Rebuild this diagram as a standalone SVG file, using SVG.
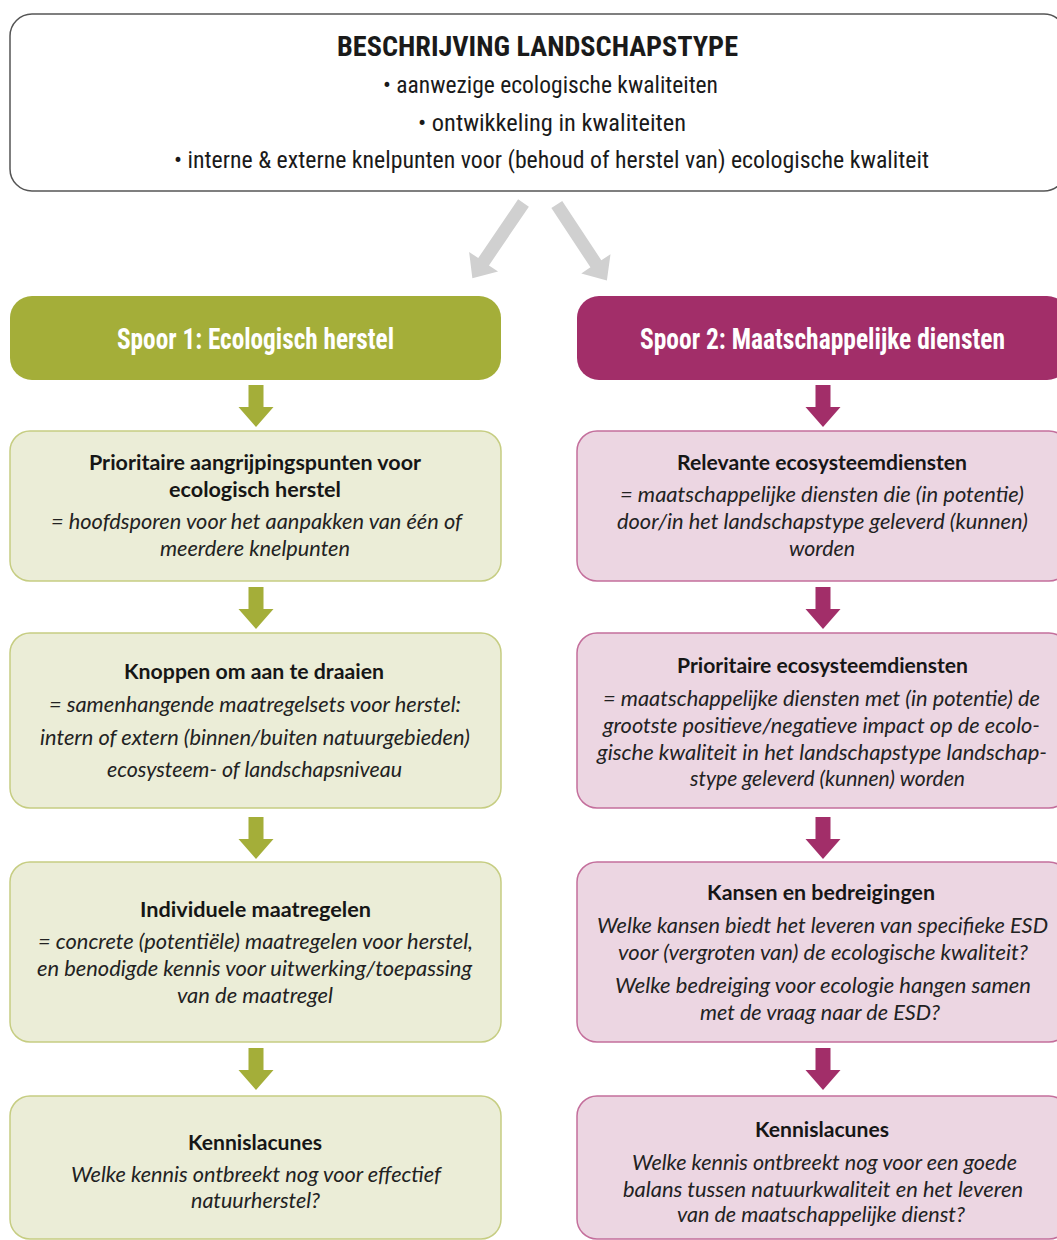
<svg xmlns="http://www.w3.org/2000/svg" xmlns:xlink="http://www.w3.org/1999/xlink" width="1057" height="1240" viewBox="0 0 1057 1240">
  <style>
    .top { fill: #ffffff; stroke: #555555; stroke-width: 1.5; }
    .tt { font-family: "Liberation Sans Narrow", "Roboto Condensed", "Open Sans", sans-serif; fill: #1a1a1a; }
    .ttb { font-size: 28px; font-weight: bold; }
    .ttl { font-size: 24px; }
    .hg { fill: #a4ae39; }
    .hm { fill: #a22e69; }
    .ht { font-family: "Liberation Sans Narrow", "Roboto Condensed", "Open Sans", sans-serif; font-size: 29px; font-weight: bold; fill: #ffffff; }
    .ng { fill: #ebedd7; stroke: #c6cd82; stroke-width: 1.5; }
    .nm { fill: #ecd6e2; stroke: #c46f9c; stroke-width: 1.5; }
    .b { font-family: Lato, "Noto Sans", sans-serif; font-size: 20px; font-weight: bold; fill: #161616; }
    .i { font-family: Lato, "Noto Sans", sans-serif; font-size: 21px; font-style: italic; fill: #222222; }
    .ag { fill: #a4ae39; }
    .am { fill: #a22e69; }
    .agray { fill: #d0d0d0; }
  </style>
  <defs>
    <path id="varrow" d="M -7.5 0 L 7.5 0 L 7.5 22 L 17.5 22 L 0 42 L -17.5 22 L -7.5 22 Z"/>
    <path id="darrow" d="M -6.5 0 L 6.5 0 L 6.5 71 L 17.5 71 L 0 91 L -17.5 71 L -6.5 71 Z"/>
  </defs>

  <g id="beschrijving">
    <rect class="top" x="10" y="14" width="1056" height="177" rx="22"/>
    <text class="tt ttb" x="337" y="56" textLength="401" lengthAdjust="spacingAndGlyphs">BESCHRIJVING LANDSCHAPSTYPE</text>
    <text class="tt ttl" x="383" y="93" textLength="335" lengthAdjust="spacingAndGlyphs">• aanwezige ecologische kwaliteiten</text>
    <text class="tt ttl" x="418" y="131" textLength="268" lengthAdjust="spacingAndGlyphs">• ontwikkeling in kwaliteiten</text>
    <text class="tt ttl" x="174" y="168" textLength="755" lengthAdjust="spacingAndGlyphs">• interne &amp; externe knelpunten voor (behoud of herstel van) ecologische kwaliteit</text>
  </g>

  <g id="spoor1">
    <rect class="hg" x="10" y="296" width="491" height="84" rx="22"/>
    <text class="ht" x="117" y="349" textLength="277" lengthAdjust="spacingAndGlyphs">Spoor 1: Ecologisch herstel</text>
  </g>
  <g id="spoor2">
    <rect class="hm" x="577" y="296" width="492" height="84" rx="22"/>
    <text class="ht" x="640" y="349" textLength="365" lengthAdjust="spacingAndGlyphs">Spoor 2: Maatschappelijke diensten</text>
  </g>

  <g id="l1">
    <rect class="ng" x="10" y="431" width="491" height="150" rx="20"/>
    <text class="b" x="89" y="470" textLength="332" lengthAdjust="spacingAndGlyphs">Prioritaire aangrijpingspunten voor</text>
    <text class="b" x="169" y="497" textLength="172" lengthAdjust="spacingAndGlyphs">ecologisch herstel</text>
    <text class="i" x="51" y="529" textLength="411" lengthAdjust="spacingAndGlyphs">= hoofdsporen voor het aanpakken van één of</text>
    <text class="i" x="160" y="556" textLength="190" lengthAdjust="spacingAndGlyphs">meerdere knelpunten</text>
  </g>
  <g id="l2">
    <rect class="ng" x="10" y="633" width="491" height="175" rx="20"/>
    <text class="b" x="124" y="679" textLength="260" lengthAdjust="spacingAndGlyphs">Knoppen om aan te draaien</text>
    <text class="i" x="49" y="712" textLength="412" lengthAdjust="spacingAndGlyphs">= samenhangende maatregelsets voor herstel:</text>
    <text class="i" x="40" y="745" textLength="430" lengthAdjust="spacingAndGlyphs">intern of extern (binnen/buiten natuurgebieden)</text>
    <text class="i" x="107" y="777" textLength="295" lengthAdjust="spacingAndGlyphs">ecosysteem- of landschapsniveau</text>
  </g>
  <g id="l3">
    <rect class="ng" x="10" y="862" width="491" height="180" rx="20"/>
    <text class="b" x="140" y="917" textLength="231" lengthAdjust="spacingAndGlyphs">Individuele maatregelen</text>
    <text class="i" x="38" y="949" textLength="435" lengthAdjust="spacingAndGlyphs">= concrete (potentiële) maatregelen voor herstel,</text>
    <text class="i" x="37" y="976" textLength="435" lengthAdjust="spacingAndGlyphs">en benodigde kennis voor uitwerking/toepassing</text>
    <text class="i" x="177" y="1003" textLength="156" lengthAdjust="spacingAndGlyphs">van de maatregel</text>
  </g>
  <g id="l4">
    <rect class="ng" x="10" y="1096" width="491" height="143" rx="20"/>
    <text class="b" x="188" y="1150" textLength="134" lengthAdjust="spacingAndGlyphs">Kennislacunes</text>
    <text class="i" x="71" y="1182" textLength="370" lengthAdjust="spacingAndGlyphs">Welke kennis ontbreekt nog voor effectief</text>
    <text class="i" x="191" y="1208" textLength="129" lengthAdjust="spacingAndGlyphs">natuurherstel?</text>
  </g>

  <g id="r1">
    <rect class="nm" x="577" y="431" width="492" height="150" rx="20"/>
    <text class="b" x="677" y="470" textLength="290" lengthAdjust="spacingAndGlyphs">Relevante ecosysteemdiensten</text>
    <text class="i" x="620" y="502" textLength="404" lengthAdjust="spacingAndGlyphs">= maatschappelijke diensten die (in potentie)</text>
    <text class="i" x="617" y="529" textLength="411" lengthAdjust="spacingAndGlyphs">door/in het landschapstype geleverd (kunnen)</text>
    <text class="i" x="789" y="556" textLength="66" lengthAdjust="spacingAndGlyphs">worden</text>
  </g>
  <g id="r2">
    <rect class="nm" x="577" y="633" width="492" height="175" rx="20"/>
    <text class="b" x="677" y="673" textLength="291" lengthAdjust="spacingAndGlyphs">Prioritaire ecosysteemdiensten</text>
    <text class="i" x="603" y="706" textLength="437" lengthAdjust="spacingAndGlyphs">= maatschappelijke diensten met (in potentie) de</text>
    <text class="i" x="603" y="733" textLength="437" lengthAdjust="spacingAndGlyphs">grootste positieve/negatieve impact op de ecolo-</text>
    <text class="i" x="597" y="760" textLength="450" lengthAdjust="spacingAndGlyphs">gische kwaliteit in het landschapstype landschap-</text>
    <text class="i" x="690" y="786" textLength="275" lengthAdjust="spacingAndGlyphs">stype geleverd (kunnen) worden</text>
  </g>
  <g id="r3">
    <rect class="nm" x="577" y="862" width="492" height="180" rx="20"/>
    <text class="b" x="707" y="900" textLength="228" lengthAdjust="spacingAndGlyphs">Kansen en bedreigingen</text>
    <text class="i" x="597" y="933" textLength="451" lengthAdjust="spacingAndGlyphs">Welke kansen biedt het leveren van specifieke ESD</text>
    <text class="i" x="618" y="960" textLength="410" lengthAdjust="spacingAndGlyphs">voor (vergroten van) de ecologische kwaliteit?</text>
    <text class="i" x="615" y="993" textLength="416" lengthAdjust="spacingAndGlyphs">Welke bedreiging voor ecologie hangen samen</text>
    <text class="i" x="700" y="1020" textLength="240" lengthAdjust="spacingAndGlyphs">met de vraag naar de ESD?</text>
  </g>
  <g id="r4">
    <rect class="nm" x="577" y="1096" width="492" height="143" rx="20"/>
    <text class="b" x="755" y="1137" textLength="134" lengthAdjust="spacingAndGlyphs">Kennislacunes</text>
    <text class="i" x="632" y="1170" textLength="385" lengthAdjust="spacingAndGlyphs">Welke kennis ontbreekt nog voor een goede</text>
    <text class="i" x="623" y="1197" textLength="400" lengthAdjust="spacingAndGlyphs">balans tussen natuurkwaliteit en het leveren</text>
    <text class="i" x="677" y="1222" textLength="288" lengthAdjust="spacingAndGlyphs">van de maatschappelijke dienst?</text>
  </g>

  <g id="connectors">
    <use xlink:href="#darrow" class="agray" transform="translate(523.5,203) rotate(34.2)"/>
    <use xlink:href="#darrow" class="agray" transform="translate(556.8,204.5) rotate(-33.4)"/>
    <use xlink:href="#varrow" class="ag" transform="translate(256,385)"/>
    <use xlink:href="#varrow" class="ag" transform="translate(256,587)"/>
    <use xlink:href="#varrow" class="ag" transform="translate(256,817)"/>
    <use xlink:href="#varrow" class="ag" transform="translate(256,1048)"/>
    <use xlink:href="#varrow" class="am" transform="translate(823,385)"/>
    <use xlink:href="#varrow" class="am" transform="translate(823,587)"/>
    <use xlink:href="#varrow" class="am" transform="translate(823,817)"/>
    <use xlink:href="#varrow" class="am" transform="translate(823,1048)"/>
  </g>
</svg>
